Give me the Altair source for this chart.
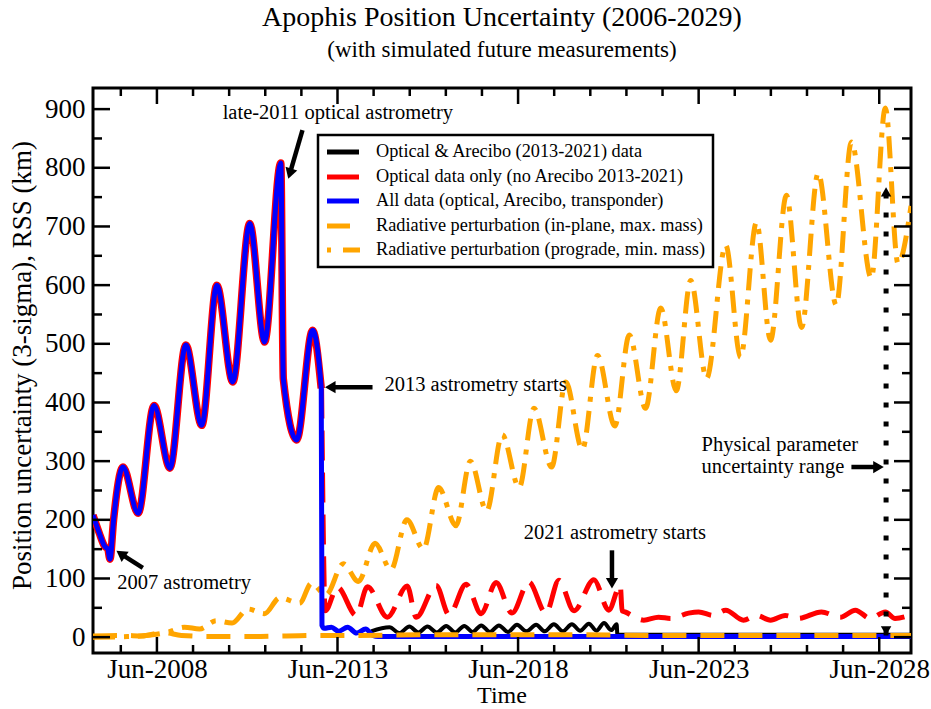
import altair as alt
import pandas as pd

FONT = "Liberation Serif"
W, H = 818, 565
X_DOMAIN = [2006.65, 2029.3]
Y_DOMAIN = [-27, 936]

# ---- data (decimal years, km) ----
pre_years = [2006.65, 2006.82, 2006.97, 2007.06, 2007.12, 2007.22, 2007.48, 2007.90, 2008.34, 2008.78,
             2009.22, 2009.66, 2010.08, 2010.52, 2010.99, 2011.40, 2011.85, 2011.92, 2012.29, 2012.73,
             2012.97]
pre_vals = [208, 178, 155, 150, 133, 200, 290, 211, 395, 288,
            498, 361, 600, 435, 705, 503, 808, 440, 336, 523,
            424]

blue_post_years = [2012.99, 2013.05, 2013.25, 2013.45, 2013.70, 2013.95, 2014.20, 2014.40, 2014.55, 2029.30]
blue_post_vals = [20, 15, 17, 10, 17, 7, 14, 3, 1, 1]

red_post_years = [2012.98, 2013.08, 2013.42, 2013.94, 2014.25, 2014.80, 2015.35, 2015.60, 2016.15, 2016.51,
                  2016.98, 2017.40, 2017.81, 2018.25, 2018.72, 2019.19, 2019.55, 2019.97, 2020.52, 2020.93,
                  2021.25, 2021.30, 2021.38, 2021.90, 2022.31, 2022.65, 2023.14, 2023.42, 2023.83, 2024.17,
                  2024.66, 2025.02, 2025.41, 2025.82, 2026.18, 2026.82, 2027.34, 2027.76, 2028.17, 2028.59,
                  2028.86, 2029.25]
red_post_vals = [424, 45, 85, 37, 86, 34, 87, 34, 88, 38,
                 90, 40, 93, 41, 94, 41, 97, 45, 98, 46,
                 88, 45, 43, 29, 34, 32, 41, 43, 37, 46,
                 29, 37, 29, 37, 32, 43, 34, 46, 32, 43,
                 32, 37]

black_years = [2014.35, 2014.86, 2015.13, 2015.41, 2015.66, 2015.91, 2016.17, 2016.43, 2016.68, 2016.93,
               2017.16, 2017.40, 2017.64, 2017.89, 2018.14, 2018.39, 2018.65, 2018.92, 2019.16, 2019.41,
               2019.66, 2019.91, 2020.14, 2020.38, 2020.59, 2020.80, 2021.00, 2021.15, 2021.17, 2029.30]
black_vals = [10, 17, 7, 18, 8, 18, 8, 19, 8, 19,
              9, 20, 9, 20, 9, 21, 10, 21, 10, 22,
              10, 22, 11, 23, 11, 24, 12, 22, 4, 4]

dash_years = [2006.65, 2007.5, 2008.0, 2008.6, 2009.1, 2010.0, 2011.0, 2012.0, 2013.0, 2014.0,
              2016.0, 2018.0, 2020.0, 2022.0, 2024.0, 2026.0, 2028.0, 2029.3]
dash_vals = [2, 3, 2, 8, 3, 1, 1, 2, 3, 3,
             4, 4, 4, 3, 3, 3, 3, 3]

dd_years = [2006.65, 2007.6, 2008.3, 2008.75, 2009.18, 2009.6, 2010.06, 2010.5, 2010.94, 2011.4,
            2011.82, 2012.37, 2012.70, 2013.1, 2013.58, 2014.0, 2014.46, 2014.9, 2015.34, 2015.8,
            2016.22, 2016.7, 2017.1, 2017.55, 2017.98, 2018.45, 2018.86, 2019.35, 2019.74, 2020.2,
            2020.62, 2021.1, 2021.5, 2021.95, 2022.37, 2022.8, 2023.20, 2023.64, 2024.17, 2024.58,
            2025.02, 2025.41, 2025.85, 2026.27, 2026.73, 2027.23, 2027.65, 2028.20, 2028.59, 2028.94,
            2029.3]
dd_vals = [0, 1, 4, 9, 17, 14, 28, 24, 48, 40,
           67, 58, 92, 72, 125, 95, 160, 115, 200, 150,
           255, 190, 300, 215, 345, 255, 390, 290, 435, 320,
           480, 360, 515, 390, 561, 420, 608, 441, 668, 477,
           707, 506, 753, 528, 791, 566, 844, 612, 902, 637,
           735]

x_major = [2008.42, 2013.42, 2018.42, 2023.42, 2028.42]
x_minor = [2007.42, 2009.42, 2010.42, 2011.42, 2012.42, 2014.42, 2015.42, 2016.42, 2017.42,
           2019.42, 2020.42, 2021.42, 2022.42, 2024.42, 2025.42, 2026.42, 2027.42, 2029.42]
y_major = [0, 100, 200, 300, 400, 500, 600, 700, 800, 900]
y_minor = [50, 150, 250, 350, 450, 550, 650, 750, 850]

legend_labels = ["Optical & Arecibo (2013-2021) data",
                 "Optical data only (no Arecibo 2013-2021)",
                 "All data (optical, Arecibo, transponder)",
                 "Radiative perturbation (in-plane, max. mass)",
                 "Radiative perturbation (prograde, min. mass)"]

title_text = "Apophis Position Uncertainty (2006-2029)"
subtitle_text = "(with simulated future measurements)"
x_title = "Time"
y_title = "Position uncertainty (3-sigma), RSS (km)"

# annotations: text, year, value
notes = [
    ("late-2011 optical astrometry", 2010.24, 893),
    ("2007 astrometry", 2007.32, 92),
    ("2013 astrometry starts", 2014.72, 430),
    ("2021 astrometry starts", 2018.58, 177),
    ("Physical parameter", 2023.5, 327),
    ("uncertainty range", 2023.5, 290),
]
# arrows: tail year, tail value, head year, head value, head angle
arrows = [
    (2012.45, 864, 2012.10, 790, 197),
    (2008.03, 118, 2007.42, 142, 305),
    (2014.39, 426, 2013.22, 426, 270),
    (2021.02, 148, 2021.02, 92, 180),
    (2027.65, 290, 2028.40, 290, 90),
]
range_year = 2028.61
range_low, range_high = 3, 767

BLUE = "#0000ff"
RED = "#ff0000"
ORANGE = "#ffa500"

xs = alt.Scale(domain=X_DOMAIN, nice=False, zero=False)
ys = alt.Scale(domain=Y_DOMAIN, nice=False, zero=False)
X_AXIS = alt.Axis(values=x_major, labelExpr="'Jun-' + floor(datum.value)", ticks=False,
                  domain=False, grid=False, labelFont=FONT, labelFontSize=27,
                  labelColor="black", labelPadding=3, labelFlush=False, title=None)
Y_AXIS = alt.Axis(values=y_major, ticks=False, domain=False, grid=False, labelFont=FONT,
                  labelFontSize=27, labelColor="black", labelPadding=8, title=None)


def X(field):
    return alt.X(field, type="quantitative", scale=xs, axis=X_AXIS, title=None)


def Y(field):
    return alt.Y(field, type="quantitative", scale=ys, axis=Y_AXIS, title=None)


def series(years, vals, color, width, dash=None):
    df = pd.DataFrame({"t": years, "v": vals})
    kw = dict(color=color, strokeWidth=width, interpolate="monotone", clip=True, strokeJoin="round")
    if dash is not None:
        kw["strokeDash"] = dash
        kw["strokeCap"] = "butt"
    return alt.Chart(df).mark_line(**kw).encode(x=X("t"), y=Y("v"))


layers = []
layers.append(series(pre_years, pre_vals, RED, 7.5))
layers.append(series(red_post_years, red_post_vals, RED, 5, [30, 12]))
layers.append(series(dd_years, dd_vals, ORANGE, 5, [22, 9, 5, 9]))
layers.append(series(black_years, black_vals, "black", 4))
layers.append(series(pre_years + blue_post_years, pre_vals + blue_post_vals, BLUE, 5))
layers.append(series(dash_years, dash_vals, ORANGE, 5, [24, 14]))

# dotted range line
rng = pd.DataFrame({"t": [range_year], "lo": [range_low], "hi": [range_high]})
layers.append(alt.Chart(rng).mark_rule(color="black", strokeWidth=5, strokeDash=[5, 14], strokeCap="butt").encode(
    x=X("t"), y=Y("lo"), y2="hi:Q"))
heads_rng = pd.DataFrame({"t": [range_year, range_year], "v": [range_high - 8, range_low + 8], "a": [0, 180]})
layers.append(alt.Chart(heads_rng).mark_point(shape="triangle-up", filled=True, color="black", size=110, opacity=1).encode(
    x=X("t"), y=Y("v"), angle=alt.Angle("a:Q", scale=None)))


# ticks (inward)
def yticks(vals, length):
    df = pd.DataFrame({"v": vals})
    base = alt.Chart(df).mark_rule(color="black", strokeWidth=2.5)
    return [base.encode(y=Y("v"), x=alt.value(0), x2=alt.value(length)),
            base.encode(y=Y("v"), x=alt.value(W - length), x2=alt.value(W))]


def xticks(vals, length):
    df = pd.DataFrame({"t": vals})
    base = alt.Chart(df).mark_rule(color="black", strokeWidth=2.5, clip=True)
    return [base.encode(x=X("t"), y=alt.value(H), y2=alt.value(H - length)),
            base.encode(x=X("t"), y=alt.value(0), y2=alt.value(length))]


layers += yticks(y_major, 17) + yticks(y_minor, 9) + xticks(x_major, 16) + xticks(x_minor, 8)

# arrows
arr = pd.DataFrame(arrows, columns=["t0", "v0", "t1", "v1", "a"])
layers.append(alt.Chart(arr).mark_rule(color="black", strokeWidth=4.5).encode(
    x=X("t0"), y=Y("v0"), x2="t1:Q", y2="v1:Q"))
layers.append(alt.Chart(arr).mark_point(shape="triangle-up", filled=True, color="black", size=150, opacity=1).encode(
    x=X("t1"), y=Y("v1"), angle=alt.Angle("a:Q", scale=None)))

# annotation text
nt = pd.DataFrame(notes, columns=["txt", "t", "v"])
layers.append(alt.Chart(nt).mark_text(font=FONT, fontSize=20.5, color="black", align="left", baseline="middle").encode(
    x=X("t"), y=Y("v"), text="txt:N"))

# legend (custom)
LX0, LX1, LY0, LY1 = 225, 620, 47, 179
one = pd.DataFrame({"k": [0]})
layers.append(alt.Chart(one).mark_rect(fill="white", stroke="black", strokeWidth=2.5).encode(
    x=alt.value(LX0), x2=alt.value(LX1), y=alt.value(LY0), y2=alt.value(LY1)))
row_y = [64, 89, 113, 138, 162]
sym_styles = [("black", None, 234, 266), (RED, None, 234, 266), (BLUE, None, 234, 266),
              (ORANGE, [23, 20], 234, 266), (ORANGE, [4, 12, 17, 20], 234, 267)]
for (col, dash, sx0, sx1), ry in zip(sym_styles, row_y):
    kw = dict(color=col, strokeWidth=5, strokeCap="butt")
    if dash:
        kw["strokeDash"] = dash
    layers.append(alt.Chart(one).mark_rule(**kw).encode(
        x=alt.value(sx0), x2=alt.value(sx1), y=alt.value(ry), y2=alt.value(ry)))
for lab, ry in zip(legend_labels, row_y):
    layers.append(alt.Chart(pd.DataFrame({"txt": [lab]})).mark_text(
        font=FONT, fontSize=18.3, color="black", align="left", baseline="middle").encode(
        x=alt.value(283), y=alt.value(ry), text="txt:N"))

# titles
layers.append(alt.Chart(pd.DataFrame({"txt": [title_text]})).mark_text(
    font=FONT, fontSize=28, color="black", align="center", baseline="middle").encode(
    x=alt.value(W / 2), y=alt.value(-70), text="txt:N"))
layers.append(alt.Chart(pd.DataFrame({"txt": [subtitle_text]})).mark_text(
    font=FONT, fontSize=23, color="black", align="center", baseline="middle").encode(
    x=alt.value(W / 2), y=alt.value(-38), text="txt:N"))
layers.append(alt.Chart(pd.DataFrame({"txt": [x_title]})).mark_text(
    font=FONT, fontSize=24, color="black", align="center", baseline="middle").encode(
    x=alt.value(W / 2), y=alt.value(H + 43), text="txt:N"))
layers.append(alt.Chart(pd.DataFrame({"txt": [y_title]})).mark_text(
    font=FONT, fontSize=27, color="black", align="center", baseline="middle", angle=270).encode(
    x=alt.value(-70), y=alt.value(H / 2 - 5), text="txt:N"))

chart = alt.layer(*layers).properties(
    width=W, height=H,
    padding={"left": 93, "top": 88, "right": 20, "bottom": 56},
    autosize=alt.AutoSizeParams(type="none"),
    background="white",
).configure_view(stroke="black", strokeWidth=3)

chart.save("out.html", embed_options={"renderer": "svg", "actions": False})
